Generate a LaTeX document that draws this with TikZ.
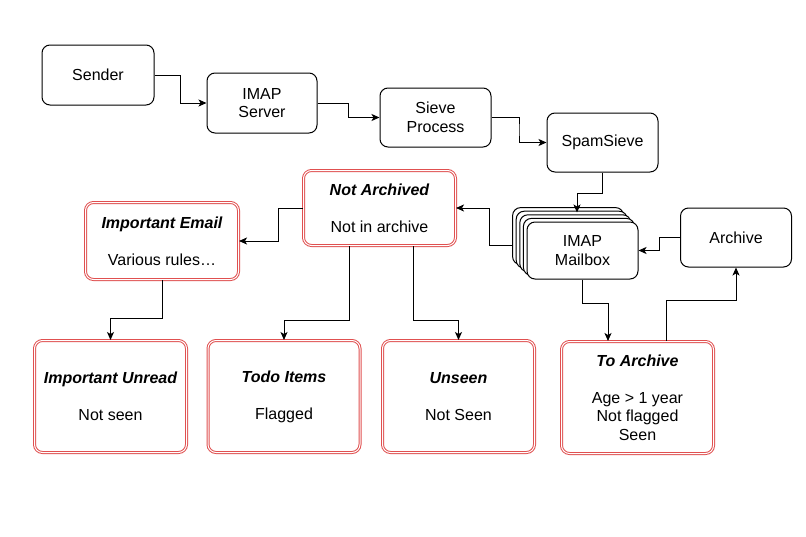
\documentclass[tikz,border=0pt]{standalone}
\usepackage{fontspec}
\setmainfont{Liberation Sans}
\usetikzlibrary{arrows.meta,calc}
\definecolor{myred}{RGB}{224,80,80}
\begin{document}
\begin{tikzpicture}[x=1pt,y=-1pt,
  font=\fontsize{16}{18.5}\selectfont,
  box/.style={draw,line width=1pt,rounded corners=8pt,fill=white,align=center,inner sep=0pt,minimum width=111pt,minimum height=59pt},
  rbox/.style={draw=myred,double=white,double distance=1pt,line width=1pt,rounded corners=8pt,align=center,inner sep=0pt,minimum width=152pt,minimum height=112pt},
  arr/.style={line width=1pt,-{Stealth[length=8pt,width=7pt,inset=2pt]}}]
\useasboundingbox (0,0) rectangle (806,536);
% top chain
\node[box,minimum width=112pt,minimum height=60pt] (sender) at (98,75) {Sender};
\node[box,minimum width=110pt,minimum height=60pt] (imap) at (262,103) {IMAP\\Server};
\node[box] (sieve) at (435.5,117.5) {Sieve\\Process};
\node[box] (spam) at (602.5,142.5) {SpamSieve};
\node[box] (arch) at (736,237.5) {Archive};
% mailbox stack
\foreach \k in {4,3,2,1}
  \node[box,minimum height=57pt] (mail\k) at ({582.5-3.6*\k},{250.5-3.6*\k}) {};
\node[box,minimum height=57pt] (mail) at (582.5,250.5) {IMAP\\Mailbox};
% red boxes
\node[rbox,minimum height=75pt] (na) at (379.5,208) {{\bfseries\itshape Not Archived}\\[18.5pt]Not in archive};
\node[rbox,minimum width=153pt,minimum height=77pt] (imp) at (162,241) {{\bfseries\itshape Important Email}\\[18.5pt]Various rules…};
\node[rbox] (iu) at (110.5,396.5) {{\bfseries\itshape Important Unread}\\[18.5pt]Not seen};
\node[rbox] (todo) at (284,396.5) {{\bfseries\itshape Todo Items}\\[18.5pt]Flagged};
\node[rbox] (unseen) at (458.5,396.5) {{\bfseries\itshape Unseen}\\[18.5pt]Not Seen};
\node[rbox] (toarch) at (637.5,397.5) {{\bfseries\itshape To Archive}\\[18.5pt]Age > 1 year\\Not flagged\\Seen};
% connectors
\draw[arr] (sender.east) -| ($(sender.east)!0.5!(imap.west)$) |- (imap.west);
\draw[arr] (imap.east) -| ($(imap.east)!0.5!(sieve.west)$) |- (sieve.west);
\draw[arr] (sieve.east) -| ($(sieve.east)!0.5!(spam.west)$) |- (spam.west);
\draw[arr] (spam.south) -- ++(0,21) -| ([xshift=-5.5pt,yshift=9pt]mail.north);
\draw[arr] ([yshift=-9pt]mail4.west) -| ($(na.east)!0.6!(mail4.west)$) |- (na.east);
\draw[arr] (arch.west) -| ($(mail.east)!0.5!(arch.west)$) |- (mail.east);
\draw[arr] (mail.south) -- ++(0,24) -| ([xshift=-29.5pt]toarch.north);
\draw[arr] ([xshift=28.5pt]toarch.north) -- ++(0,-41) -| (arch.south);
\draw[arr] (na.west) -| ($(imp.east)!0.62!(na.west)$) |- (imp.east);
\draw[arr] (imp.south) -- ++(0,38) -| (iu.north);
\draw[arr] ([xshift=-30pt]na.south) -- ++(0,74) -| (todo.north);
\draw[arr] ([xshift=34pt]na.south) -- ++(0,74) -| (unseen.north);
\end{tikzpicture}
\end{document}
